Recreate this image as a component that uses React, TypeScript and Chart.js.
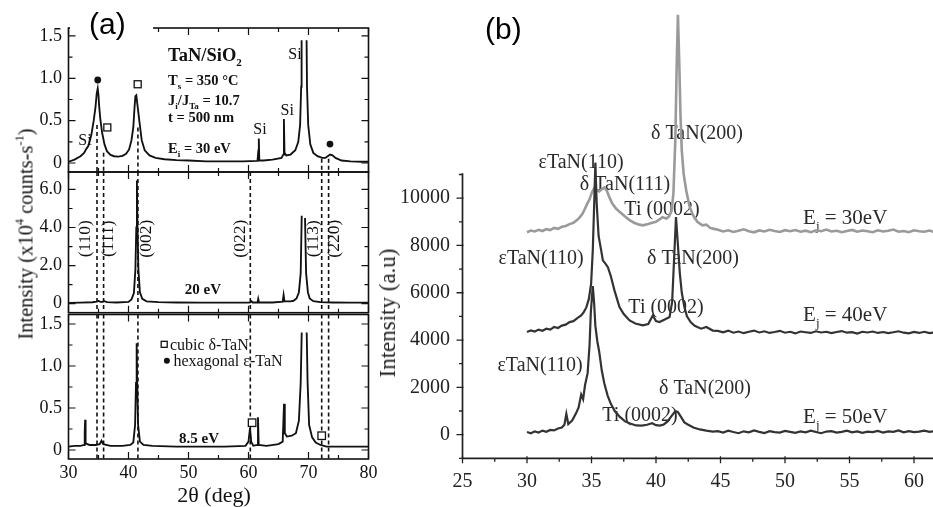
import React, { useEffect, useRef } from "react";
import { Chart, registerables } from "chart.js";

Chart.register(...registerables);

const SERIF = "'Liberation Serif', 'Times New Roman', serif";
const INK = "#111";

// ================= Panel (a) data =================
const aXMajor = [30, 40, 50, 60, 70, 80];
const aXMinor = [35, 45, 55, 65, 75];
const aXLabels = ["30", "40", "50", "60", "70", "80"];

// top: Ei = 30 eV
const aTopX = [30, 31, 32, 32.6, 33.0, 33.3, 33.8, 34.2, 34.5, 34.7, 34.87, 35.0, 35.1, 35.3, 35.6, 36.0, 36.4, 37.0, 37.6, 38.3, 39.0, 39.6, 40.1, 40.5, 40.8, 41.0, 41.15, 41.3, 41.5, 41.8, 42.2, 42.7, 43.5, 44.5, 46, 48, 50, 53, 56, 59, 61.5, 61.65, 61.72, 61.8, 62.5, 64, 65.5, 65.8, 65.9, 66.0, 66.3, 67.0, 67.8, 68.3, 68.6, 68.78, 68.85, 69.2, 69.68, 69.75, 69.95, 70.3, 70.8, 71.5, 72.3, 72.8, 73.2, 73.6, 74.0, 74.5, 75.5, 77, 79, 80];
const aTopY = [0.015, 0.04, 0.08, 0.12, 0.17, 0.2, 0.33, 0.5, 0.66, 0.82, 0.88, 0.8, 0.68, 0.52, 0.36, 0.22, 0.14, 0.095, 0.08, 0.075, 0.085, 0.11, 0.16, 0.27, 0.42, 0.65, 0.79, 0.8, 0.68, 0.5, 0.27, 0.15, 0.09, 0.06, 0.045, 0.035, 0.03, 0.02, 0.02, 0.02, 0.025, 0.15, 0.29, 0.03, 0.03, 0.04, 0.06, 0.1, 0.52, 0.12, 0.09, 0.1, 0.15, 0.25, 0.45, 0.9, 1.45, null, 1.45, 0.9, 0.45, 0.22, 0.12, 0.08, 0.06, 0.06, 0.08, 0.1, 0.09, 0.06, 0.03, 0.02, 0.015, 0.015];
const aTopRange = [-0.106, 1.594];
const aTopYMajor = [0, 0.5, 1.0, 1.5];
const aTopYLabels = ["0", "0.5", "1.0", "1.5"];
const aTopYMinor = [0.25, 0.75, 1.25];

// middle: 20 eV
const aMidX = [30, 32, 34, 34.7, 35.0, 35.3, 35.7, 36.0, 36.4, 38, 40, 40.5, 40.9, 41.15, 41.3, 41.4, 41.5, 41.65, 41.9, 42.3, 43, 45, 48, 52, 56, 60.0, 60.3, 60.5, 60.7, 61.5, 61.62, 61.75, 64, 65.7, 65.85, 66.0, 67.0, 67.5, 68.0, 68.4, 68.7, 68.87, 69.1, 69.42, 69.6, 69.9, 70.2, 70.8, 72, 74, 77, 80];
const aMidY = [0.04, 0.05, 0.07, 0.1, 0.14, 0.09, 0.1, 0.13, 0.08, 0.06, 0.09, 0.22, 0.55, 1.8, 4.0, 6.47, 4.0, 1.8, 0.6, 0.25, 0.12, 0.08, 0.06, 0.05, 0.05, 0.05, 0.07, 0.12, 0.06, 0.06, 0.25, 0.06, 0.06, 0.1, 0.45, 0.12, 0.12, 0.15, 0.27, 0.6, 1.6, 4.62, null, 4.5, 1.6, 0.6, 0.27, 0.13, 0.08, 0.06, 0.05, 0.05];
const aMidRange = [-0.477, 6.917];
const aMidYMajor = [0, 2, 4, 6];
const aMidYLabels = ["0", "2.0", "4.0", "6.0"];
const aMidYMinor = [1, 3, 5];

// bottom: 8.5 eV
const aBotX = [30, 31, 32, 32.6, 32.7, 32.77, 32.85, 33.5, 34.5, 35.2, 35.5, 35.8, 37, 39, 40.3, 40.8, 41.1, 41.25, 41.36, 41.45, 41.6, 41.9, 42.5, 44, 48, 52, 56, 59.5, 60.0, 60.25, 60.45, 60.8, 61.45, 61.58, 61.7, 63, 65.0, 65.7, 65.92, 66.05, 66.4, 67.2, 67.9, 68.4, 68.7, 68.87, 69.2, 69.7, 69.85, 70.1, 70.6, 71.2, 72, 73, 75, 78, 80];
const aBotY = [0.04, 0.05, 0.05, 0.06, 0.2, 0.36, 0.08, 0.06, 0.06, 0.07, 0.11, 0.07, 0.05, 0.05, 0.06, 0.09, 0.3, 0.8, 1.27, 0.8, 0.3, 0.1, 0.06, 0.05, 0.04, 0.04, 0.04, 0.05, 0.1, 0.26, 0.1, 0.05, 0.06, 0.39, 0.06, 0.05, 0.07, 0.1, 0.55, 0.2, 0.16, 0.17, 0.2, 0.35, 0.8, 1.4, null, 1.4, 0.8, 0.3, 0.15, 0.09, 0.06, 0.04, 0.04, 0.04, 0.04];
const aBotRange = [-0.107, 1.613];

// reference lines (dashed) and their labels
const aDashX = [34.75, 35.85, 41.57, 60.3, 72.2, 73.35];
const aTopDashFrom = [0.45, 0.12, 0.42, null, 0.05, 0.05];
const aPlaneLabels = ["(110)", "(111)", "(002)", "(022)", "(113)", "(220)"];
const aPlaneLabelX = [32.75, 36.6, 43.0, 58.6, 70.8, 74.4];
const aPlaneLabelY = 3.41;

// annotations
const aSiX = [32.75, 61.9, 66.45, 67.75];
const aSiY = [0.27, 0.4, 0.634, 1.295];
const aTopSquares = [[36.47, 0.42], [41.53, 0.93]];
const aTopDots = [[34.87, 0.98], [73.58, 0.224]];
const aBotSquares = [[60.6, 0.325], [72.2, 0.17]];

// ================= Panel (b) data =================
const bXMajor = [25, 30, 35, 40, 45, 50, 55, 60];
const bXMinor = [27.5, 32.5, 37.5, 42.5, 47.5, 52.5, 57.5, 62.5];
const bYMajor = [0, 2000, 4000, 6000, 8000, 10000];
const bYMinor = [-1000, 1000, 3000, 5000, 7000, 9000, 11000];

const bTailX = [44.8, 45.2, 45.6, 46.0, 46.4, 46.8, 47.2, 47.6, 48.0, 48.4, 48.8, 49.2, 49.6, 50.0, 50.4, 50.8, 51.2, 51.6, 52.0, 52.4, 52.8, 53.2, 53.6, 54.0, 54.4, 54.8, 55.2, 55.6, 56.0, 56.4, 56.8, 57.2, 57.6, 58.0, 58.4, 58.8, 59.2, 59.6, 60.0, 60.4, 60.8, 61.2, 61.6, 62.0, 62.4, 62.8];

const b30HeadX = [30.0, 30.3, 30.6, 30.9, 31.2, 31.5, 31.8, 32.1, 32.4, 32.7, 33.0, 33.3, 33.6, 33.9, 34.1, 34.3, 34.5, 34.7, 34.85, 35.0, 35.2, 35.4, 35.6, 35.8, 36.0, 36.2, 36.4, 36.6, 36.9, 37.2, 37.6, 37.95, 38.3, 38.7, 39.0, 39.4, 39.7, 40.0, 40.3, 40.5, 40.8, 41.0, 41.2, 41.35, 41.5, 41.6, 41.7, 41.8, 41.9, 42.0, 42.15, 42.35, 42.6, 42.85, 43.2, 43.6, 43.9, 44.2, 44.5];
const b30HeadY = [8560, 8630, 8590, 8660, 8610, 8690, 8650, 8740, 8700, 8790, 8820, 8900, 8960, 9080, 9200, 9340, 9560, 9800, 9950, 10200, 10420, 10330, 10280, 10380, 10450, 10300, 10020, 9780, 9560, 9410, 9220, 9070, 8960, 8880, 8850, 8910, 8960, 9000, 9110, 9190, 9140, 9220, 9450, 10200, 12500, 15500, 17750, 15800, 13500, 12000, 11000, 10300, 9650, 9300, 9000, 8850, 8880, 8740, 8700];
const b30TailY = [8660, 8590, 8640, 8570, 8625, 8680, 8600, 8555, 8635, 8590, 8660, 8610, 8570, 8645, 8600, 8650, 8580, 8625, 8560, 8640, 8600, 8670, 8590, 8620, 8560, 8610, 8655, 8580, 8630, 8600, 8560, 8640, 8590, 8620, 8670, 8580, 8610, 8560, 8640, 8600, 8580, 8630, 8560, 8610, 8590, 8570];

const b40HeadX = [30.0, 30.3, 30.6, 30.9, 31.2, 31.5, 31.8, 32.1, 32.4, 32.7, 33.0, 33.3, 33.6, 33.9, 34.2, 34.4, 34.6, 34.8, 34.97, 35.1, 35.2, 35.3, 35.4, 35.55, 35.75, 35.88, 36.05, 36.27, 36.5, 36.78, 37.0, 37.17, 37.5, 37.95, 38.4, 38.98, 39.4, 39.75, 40.0, 40.27, 40.6, 41.05, 41.25, 41.4, 41.55, 41.7, 41.85, 42.0, 42.2, 42.4, 42.7, 43.0, 43.5, 43.9, 44.4];
const b40HeadY = [4340, 4410, 4360, 4440, 4390, 4480, 4440, 4550, 4510, 4610, 4650, 4760, 4800, 4930, 5040, 5180, 5380, 5750, 6380, 7790, 9600, 11500, 9800, 8400, 7790, 7370, 7250, 7080, 6700, 6100, 5700, 5390, 5100, 4830, 4700, 4620, 4680, 5040, 4800, 4760, 4850, 4970, 5600, 7400, 9200, 8000, 6800, 6000, 5400, 5000, 4750, 4600, 4480, 4550, 4400];
const b40TailY = [4390, 4330, 4400, 4310, 4360, 4290, 4350, 4400, 4320, 4370, 4300, 4340, 4390, 4310, 4350, 4280, 4360, 4330, 4300, 4370, 4320, 4350, 4290, 4340, 4380, 4310, 4330, 4270, 4350, 4320, 4360, 4300, 4340, 4290, 4330, 4370, 4310, 4280, 4340, 4300, 4350, 4290, 4320, 4280, 4330, 4300];

const b50HeadX = [30.0, 30.3, 30.6, 30.9, 31.2, 31.5, 31.8, 32.1, 32.4, 32.7, 32.9, 33.05, 33.2, 33.5, 33.8, 34.0, 34.2, 34.35, 34.5, 34.7, 34.85, 34.95, 35.1, 35.2, 35.3, 35.45, 35.6, 35.8, 36.0, 36.25, 36.5, 36.8, 37.2, 37.6, 38.0, 38.45, 38.9, 39.3, 39.7, 40.0, 40.3, 40.6, 40.9, 41.2, 41.5, 41.7, 41.9, 42.2, 42.5, 42.9, 43.4, 43.9, 44.4];
const b50HeadY = [110, 60, 140, 90, 170, 120, 200, 180, 260, 300, 420, 880, 450, 600, 900, 1150, 1700, 1500, 2100, 2600, 3800, 5200, 6280, 5600, 4600, 3950, 3500, 2700, 2150, 1650, 1300, 1000, 750, 560, 470, 390, 380, 420, 480, 400, 380, 430, 560, 780, 1000, 950, 780, 520, 420, 300, 220, 170, 130];
const b50TailY = [150, 90, 170, 110, 60, 140, 100, 180, 120, 70, 150, 110, 90, 160, 120, 80, 140, 100, 170, 110, 60, 130, 150, 90, 120, 170, 100, 140, 80, 130, 110, 160, 90, 140, 120, 180, 100, 150, 110, 130, 170, 120, 150, 100, 160, 130];

const bNoteText = ["δ TaN(200)", "εTaN(110)", "δ TaN(111)", "Ti (0002)", "εTaN(110)", "δ TaN(200)", "Ti (0002)", "εTaN(110)", "δ TaN(200)", "Ti (0002)"];
const bNoteX = [43.18, 34.19, 37.6, 40.47, 31.09, 42.87, 40.78, 31.01, 43.8, 38.76];
const bNoteY = [12797, 11570, 10640, 9583, 7511, 7511, 5439, 2987, 2015, 874];
const bEnergies = ["30eV", "40eV", "50eV"];
const bEnergyY = [9202, 5101, 789];
const bEnergyX = 51.4;

// ================= helpers =================
type Seg = { t: string; s?: "sub" | "sup" };

function drawRich(ctx: CanvasRenderingContext2D, segs: Seg[], x: number, y: number, size: number, weight: string, align: "left" | "center") {
  const big = `${weight} ${size}px ${SERIF}`;
  const small = `${weight} ${Math.round(size * 0.62)}px ${SERIF}`;
  let w = 0;
  for (const g of segs) {
    ctx.font = g.s ? small : big;
    w += ctx.measureText(g.t).width;
  }
  let cx = align === "center" ? x - w / 2 : x;
  ctx.textAlign = "left";
  ctx.textBaseline = "alphabetic";
  const base = y + size * 0.33;
  for (const g of segs) {
    ctx.font = g.s ? small : big;
    const dy = g.s === "sub" ? size * 0.28 : g.s === "sup" ? -size * 0.42 : 0;
    ctx.fillText(g.t, cx, base + dy);
    cx += ctx.measureText(g.t).width;
  }
}

function pts(xs: number[], ys: (number | null)[]) {
  return xs.map((x, i) => ({ x, y: ys[i] }));
}

function drawFrameA(chart: any, yMajor: number[], yMinor: number[]) {
  const { ctx, chartArea: a, scales } = chart;
  const sx = scales.x, sy = scales.y;
  ctx.save();
  ctx.strokeStyle = INK;
  ctx.lineWidth = 1.6;
  ctx.setLineDash([]);
  ctx.strokeRect(a.left, a.top, a.right - a.left, a.bottom - a.top);
  ctx.lineWidth = 1.2;
  ctx.beginPath();
  const xt = (v: number, L: number) => {
    const p = sx.getPixelForValue(v);
    ctx.moveTo(p, a.bottom); ctx.lineTo(p, a.bottom - L);
    ctx.moveTo(p, a.top); ctx.lineTo(p, a.top + L);
  };
  const yt = (v: number, L: number) => {
    const p = sy.getPixelForValue(v);
    ctx.moveTo(a.left, p); ctx.lineTo(a.left + L, p);
    ctx.moveTo(a.right, p); ctx.lineTo(a.right - L, p);
  };
  aXMajor.forEach((v) => xt(v, 7));
  aXMinor.forEach((v) => xt(v, 4));
  yMajor.forEach((v) => yt(v, 7));
  yMinor.forEach((v) => yt(v, 4));
  ctx.stroke();
  ctx.restore();
}

function drawDashes(chart: any, from: (number | null)[] | null) {
  const { ctx, chartArea: a, scales } = chart;
  ctx.save();
  ctx.strokeStyle = INK;
  ctx.lineWidth = 1.6;
  ctx.setLineDash([4, 3]);
  ctx.beginPath();
  aDashX.forEach((v, i) => {
    const px = scales.x.getPixelForValue(v);
    if (from) {
      const f = from[i];
      if (f === null) return;
      ctx.moveTo(px, scales.y.getPixelForValue(f));
    } else {
      ctx.moveTo(px, a.top);
    }
    ctx.lineTo(px, a.bottom);
  });
  ctx.stroke();
  ctx.restore();
}

function drawSquare(ctx: CanvasRenderingContext2D, px: number, py: number, s: number) {
  ctx.fillStyle = "#fff";
  ctx.fillRect(px - s / 2, py - s / 2, s, s);
  ctx.strokeStyle = INK;
  ctx.lineWidth = 1.3;
  ctx.setLineDash([]);
  ctx.strokeRect(px - s / 2, py - s / 2, s, s);
}
function drawDot(ctx: CanvasRenderingContext2D, px: number, py: number, r: number) {
  ctx.fillStyle = INK;
  ctx.beginPath();
  ctx.arc(px, py, r, 0, Math.PI * 2);
  ctx.fill();
}

const noGrid = { display: false, drawTicks: false, tickLength: 0 };

function makeAConfig(opts: {
  xs: number[]; ys: (number | null)[]; range: number[]; yMajor: number[]; yLabels: string[]; yMinor: number[];
  padTop: number; padBottom: number; showX: boolean; dashFrom: (number | null)[] | null; after: (chart: any) => void;
}): any {
  return {
    type: "line",
    data: {
      datasets: [{
        data: pts(opts.xs, opts.ys), borderColor: INK, borderWidth: 1.85, pointRadius: 0, tension: 0, spanGaps: false,
      }],
    },
    options: {
      responsive: false, animation: false, events: [],
      layout: { padding: { left: 0, right: 16.5, top: opts.padTop, bottom: opts.padBottom } },
      plugins: { legend: { display: false }, tooltip: { enabled: false } },
      scales: {
        x: {
          type: "linear", min: 30, max: 80, display: opts.showX,
          grid: noGrid, border: { display: false },
          ticks: { color: INK, font: { family: SERIF, size: 18 }, padding: 3, autoSkip: false, maxRotation: 0,
            callback: (v: number) => aXLabels[aXMajor.indexOf(v)] ?? "" },
          afterBuildTicks: (s: any) => { s.ticks = aXMajor.map((v) => ({ value: v })); },
          afterFit: (s: any) => { if (opts.showX) s.height = 48; },
        },
        y: {
          type: "linear", min: opts.range[0], max: opts.range[1],
          grid: noGrid, border: { display: false },
          ticks: { color: INK, font: { family: SERIF, size: 18 }, padding: 6.5, autoSkip: false,
            callback: (v: number) => opts.yLabels[opts.yMajor.indexOf(v)] ?? "" },
          afterBuildTicks: (s: any) => { s.ticks = opts.yMajor.map((v) => ({ value: v })); },
          afterFit: (s: any) => { s.width = 68.5; },
        },
      },
    },
    plugins: [{
      id: "decoA",
      beforeDatasetsDraw: (chart: any) => drawDashes(chart, opts.dashFrom),
      afterDatasetsDraw: (chart: any) => {
        drawFrameA(chart, opts.yMajor, opts.yMinor);
        opts.after(chart);
      },
    }],
  };
}

function afterTop(chart: any) {
  const { ctx, scales: { x, y } } = chart;
  ctx.save();
  ctx.fillStyle = INK;
  const lx = x.getPixelForValue(46.6);
  drawRich(ctx, [{ t: "TaN/SiO" }, { t: "2", s: "sub" }], lx, y.getPixelForValue(1.275), 18.5, "bold", "left");
  drawRich(ctx, [{ t: "T" }, { t: "s", s: "sub" }, { t: " = 350 °C" }], lx, y.getPixelForValue(0.98), 14.5, "bold", "left");
  drawRich(ctx, [{ t: "J" }, { t: "i", s: "sub" }, { t: "/J" }, { t: "Ta", s: "sub" }, { t: " = 10.7" }], lx, y.getPixelForValue(0.744), 14.5, "bold", "left");
  drawRich(ctx, [{ t: "t = 500 nm" }], lx, y.getPixelForValue(0.543), 14.5, "bold", "left");
  drawRich(ctx, [{ t: "E" }, { t: "i", s: "sub" }, { t: " = 30 eV" }], lx, y.getPixelForValue(0.177), 14.5, "bold", "left");
  ctx.fillStyle = INK;
  aSiX.forEach((v, i) => drawRich(ctx, [{ t: "Si" }], x.getPixelForValue(v), y.getPixelForValue(aSiY[i]), 16, "normal", "center"));
  aTopSquares.forEach(([a, b]) => drawSquare(ctx, x.getPixelForValue(a), y.getPixelForValue(b), 7));
  aTopDots.forEach(([a, b]) => drawDot(ctx, x.getPixelForValue(a), y.getPixelForValue(b), 3.4));
  ctx.restore();
}

function afterMid(chart: any) {
  const { ctx, scales: { x, y } } = chart;
  ctx.save();
  ctx.fillStyle = INK;
  aPlaneLabels.forEach((t, i) => {
    ctx.save();
    ctx.translate(x.getPixelForValue(aPlaneLabelX[i]), y.getPixelForValue(aPlaneLabelY));
    ctx.rotate(-Math.PI / 2);
    ctx.font = `17.5px ${SERIF}`;
    ctx.textAlign = "center";
    ctx.textBaseline = "middle";
    ctx.fillText(t, 0, 0);
    ctx.restore();
  });
  drawRich(ctx, [{ t: "20 eV" }], x.getPixelForValue(52.4), y.getPixelForValue(0.79), 15, "bold", "center");
  ctx.restore();
}

function afterBot(chart: any) {
  const { ctx, scales: { x, y } } = chart;
  ctx.save();
  ctx.fillStyle = INK;
  drawRich(ctx, [{ t: "8.5 eV" }], x.getPixelForValue(51.75), y.getPixelForValue(0.14), 15, "bold", "center");
  drawSquare(ctx, x.getPixelForValue(45.95), y.getPixelForValue(1.258), 6);
  ctx.fillStyle = INK;
  drawRich(ctx, [{ t: "cubic δ-TaN" }], x.getPixelForValue(46.9), y.getPixelForValue(1.258), 16, "normal", "left");
  drawDot(ctx, x.getPixelForValue(46.4), y.getPixelForValue(1.063), 3);
  drawRich(ctx, [{ t: "hexagonal ε-TaN" }], x.getPixelForValue(47.5), y.getPixelForValue(1.063), 16, "normal", "left");
  aBotSquares.forEach(([a, b]) => drawSquare(ctx, x.getPixelForValue(a), y.getPixelForValue(b), 7.5));
  ctx.restore();
}

function makeBConfig(): any {
  const dark = "#333";
  return {
    type: "line",
    data: {
      datasets: [
        { data: pts([...b30HeadX, ...bTailX], [...b30HeadY, ...b30TailY]), borderColor: "#9a9a9a", borderWidth: 2.6, pointRadius: 0, tension: 0, clip: false, order: 3 },
        { data: pts([...b40HeadX, ...bTailX], [...b40HeadY, ...b40TailY]), borderColor: dark, borderWidth: 2.2, pointRadius: 0, tension: 0, clip: false, order: 1 },
        { data: pts([...b50HeadX, ...bTailX], [...b50HeadY, ...b50TailY]), borderColor: dark, borderWidth: 2.2, pointRadius: 0, tension: 0, clip: false, order: 2 },
      ],
    },
    options: {
      responsive: false, animation: false, events: [],
      layout: { padding: { left: 0, right: 13.75, top: 173.3, bottom: 0 } },
      plugins: { legend: { display: false }, tooltip: { enabled: false } },
      scales: {
        x: {
          type: "linear", min: 25, max: 62.5,
          grid: noGrid, border: { display: false },
          ticks: { color: "#222", font: { family: SERIF, size: 20 }, padding: 11, autoSkip: false, maxRotation: 0,
            callback: (v: number) => (bXMajor.includes(v) ? String(v) : "") },
          afterBuildTicks: (s: any) => { s.ticks = bXMajor.map((v) => ({ value: v })); },
          afterFit: (s: any) => { s.height = 48.7; },
        },
        y: {
          type: "linear", min: -1000, max: 11050,
          grid: noGrid, border: { display: false },
          ticks: { color: "#222", font: { family: SERIF, size: 20 }, padding: 12.5, autoSkip: false,
            callback: (v: number) => (bYMajor.includes(v) ? String(v) : "") },
          afterBuildTicks: (s: any) => { s.ticks = bYMajor.map((v) => ({ value: v })); },
          afterFit: (s: any) => { s.width = 82.5; },
        },
      },
    },
    plugins: [{
      id: "decoB",
      beforeDatasetsDraw: (chart: any) => {
        const { ctx, scales: { x, y } } = chart;
        ctx.save();
        ctx.fillStyle = "#2a2a2a";
        bNoteText.forEach((t, i) => drawRich(ctx, [{ t }], x.getPixelForValue(bNoteX[i]), y.getPixelForValue(bNoteY[i]), 20, "normal", "center"));
        bEnergies.forEach((t, i) => drawRich(ctx, [{ t: "E" }, { t: "j", s: "sub" }, { t: " = " + t }], x.getPixelForValue(bEnergyX), y.getPixelForValue(bEnergyY[i]), 21, "normal", "left"));
        ctx.restore();
      },
      afterDatasetsDraw: (chart: any) => {
        const { ctx, chartArea: a, scales: { x, y } } = chart;
        ctx.save();
        ctx.strokeStyle = "#222";
        ctx.lineWidth = 1.7;
        ctx.beginPath();
        ctx.moveTo(a.left, a.top);
        ctx.lineTo(a.left, a.bottom);
        ctx.lineTo(a.right + 30, a.bottom);
        ctx.stroke();
        ctx.lineWidth = 1.3;
        ctx.beginPath();
        bXMajor.forEach((v) => { const p = x.getPixelForValue(v); ctx.moveTo(p, a.bottom - 2); ctx.lineTo(p, a.bottom + 5); });
        bXMinor.forEach((v) => { const p = x.getPixelForValue(v); ctx.moveTo(p, a.bottom); ctx.lineTo(p, a.bottom + 3.5); });
        bYMajor.forEach((v) => { const p = y.getPixelForValue(v); ctx.moveTo(a.left + 1, p); ctx.lineTo(a.left - 6, p); });
        bYMinor.forEach((v) => { const p = y.getPixelForValue(v); ctx.moveTo(a.left, p); ctx.lineTo(a.left - 3.5, p); });
        ctx.stroke();
        ctx.restore();
      },
    }],
  };
}

function ChartCanvas(props: { left: number; top: number; width: number; height: number; make: () => any }) {
  const ref = useRef<HTMLCanvasElement | null>(null);
  useEffect(() => {
    const chart = new Chart(ref.current as HTMLCanvasElement, props.make());
    return () => chart.destroy();
  }, []);
  return (
    <canvas
      ref={ref}
      width={props.width}
      height={props.height}
      style={{ position: "absolute", left: props.left, top: props.top, width: props.width, height: props.height }}
    />
  );
}

const sup: React.CSSProperties = { fontSize: "0.6em", position: "relative", top: "-0.75em" };

export default function App() {
  return (
    <div style={{ position: "fixed", left: 0, top: 0, width: 933, height: 507, overflow: "hidden", background: "#fff", color: INK }}>
      <ChartCanvas left={0} top={0} width={385} height={190}
        make={() => makeAConfig({ xs: aTopX, ys: aTopY, range: aTopRange, yMajor: aTopYMajor, yLabels: aTopYLabels, yMinor: aTopYMinor, padTop: 28, padBottom: 18, showX: false, dashFrom: aTopDashFrom, after: afterTop })} />
      <ChartCanvas left={0} top={150} width={385} height={180}
        make={() => makeAConfig({ xs: aMidX, ys: aMidY, range: aMidRange, yMajor: aMidYMajor, yLabels: aMidYLabels, yMinor: aMidYMinor, padTop: 22, padBottom: 15.5, showX: false, dashFrom: null, after: afterMid })} />
      <ChartCanvas left={0} top={295} width={385} height={212}
        make={() => makeAConfig({ xs: aBotX, ys: aBotY, range: aBotRange, yMajor: aTopYMajor, yLabels: aTopYLabels, yMinor: aTopYMinor, padTop: 19.5, padBottom: 0, showX: true, dashFrom: null, after: afterBot })} />
      <ChartCanvas left={380} top={0} width={580} height={507} make={makeBConfig} />

      {/* panel (a) titles */}
      <div style={{ position: "absolute", left: 27, top: 234, transform: "translate(-50%, -50%) rotate(-90deg)", whiteSpace: "nowrap", font: `20.5px ${SERIF}`, lineHeight: "24px" }}>
        Intensity (x10<span style={sup}>4</span> counts-s<span style={sup}>-1</span>)
      </div>
      <div style={{ position: "absolute", left: 214, top: 495, transform: "translate(-50%, -50%)", whiteSpace: "nowrap", font: `22px ${SERIF}`, lineHeight: "26px" }}>
        2θ (deg)
      </div>
      {/* panel (b) y title */}
      <div style={{ position: "absolute", left: 388, top: 313, transform: "translate(-50%, -50%) rotate(-90deg)", whiteSpace: "nowrap", font: `23px ${SERIF}`, lineHeight: "26px", color: "#222" }}>
        Intensity (a.u)
      </div>
      {/* panel labels */}
      <div style={{ position: "absolute", left: 70, top: 0, width: 83, height: 35, background: "#fff" }} />
      <div style={{ position: "absolute", left: 89, top: 7, font: "30px 'Liberation Sans', Arial, sans-serif", lineHeight: "34px", color: "#000" }}>(a)</div>
      <div style={{ position: "absolute", left: 485, top: 12, font: "30px 'Liberation Sans', Arial, sans-serif", lineHeight: "34px", color: "#000" }}>(b)</div>
    </div>
  );
}
